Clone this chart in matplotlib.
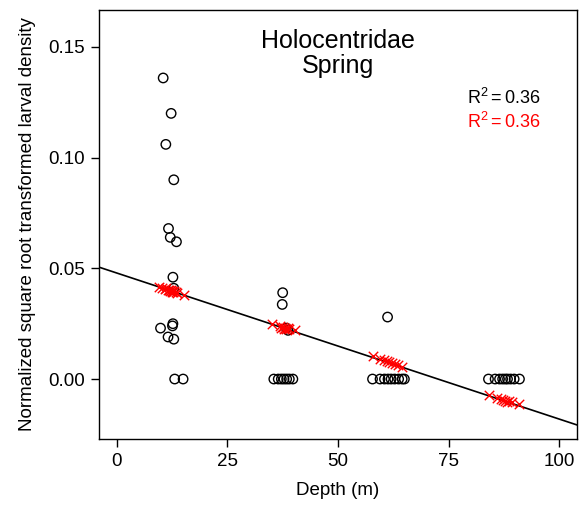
import matplotlib
matplotlib.use("Agg")
import matplotlib.pyplot as plt
import numpy as np

plt.rcParams['font.family'] = ['Liberation Sans', 'DejaVu Sans']
plt.rcParams['mathtext.fontset'] = 'custom'
plt.rcParams['mathtext.rm'] = 'Liberation Sans'
plt.rcParams['mathtext.it'] = 'Liberation Sans'

# Observed data (depth, normalized sqrt density)
obs_depth = [10.5, 12.3, 11.1, 12.9, 11.7, 12.1, 13.5, 12.7, 12.9, 12.7, 12.6, 9.9, 11.6, 12.9, 13.1, 15.0,
             37.5, 37.4, 38.3, 38.7, 35.5, 36.5, 37.2, 37.8, 38.4, 39.0, 39.8,
             61.2, 57.8, 59.5, 60.5, 61.3, 62.0, 62.8, 63.7, 64.5, 65.0,
             84.0, 85.5, 86.5, 87.2, 87.8, 88.3, 89.0, 89.8, 91.0]
obs_value = [0.136, 0.120, 0.106, 0.090, 0.068, 0.064, 0.062, 0.046, 0.041, 0.025, 0.024, 0.023, 0.019, 0.018, 0.0, 0.0,
             0.039, 0.0337, 0.023, 0.022, 0.0, 0.0, 0.0, 0.0, 0.0, 0.0, 0.0,
             0.028, 0.0, 0.0, 0.0, 0.0, 0.0, 0.0, 0.0, 0.0, 0.0,
             0.0, 0.0, 0.0, 0.0, 0.0, 0.0, 0.0, 0.0, 0.0]

# Predicted values (red crosses)
pred_depth = [9.5, 10.2, 10.8, 11.2, 11.5, 11.8, 12.0, 12.2, 12.4, 12.6, 12.8, 13.0, 13.3, 13.6, 15.3,
              35.0, 36.8, 37.2, 37.5, 37.8, 38.0, 38.3, 38.6, 39.0, 40.2,
              58.0, 59.5, 60.3, 61.0, 61.6, 62.2, 62.8, 63.5, 64.5,
              84.2, 86.0, 86.8, 87.3, 87.8, 88.2, 88.7, 89.3, 91.0]
pred_value = [0.0415, 0.0412, 0.0405, 0.0410, 0.0400, 0.0403, 0.0398, 0.0402, 0.0395, 0.0399, 0.0394, 0.0397, 0.0392, 0.0390, 0.0378,
              0.0250, 0.0238, 0.0232, 0.0236, 0.0228, 0.0232, 0.0226, 0.0230, 0.0224, 0.0220,
              0.0105, 0.0092, 0.0088, 0.0082, 0.0078, 0.0074, 0.0070, 0.0064, 0.0055,
              -0.0072, -0.0085, -0.0092, -0.0095, -0.0098, -0.0102, -0.0100, -0.0106, -0.0112]

fit_intercept = 0.0479
fit_slope = -0.00066

xticks = [0, 25, 50, 75, 100]
yticks = [0.00, 0.05, 0.10, 0.15]

fig = plt.figure(figsize=(5.81, 5.13), dpi=100)
ax = fig.add_axes([0.1704, 0.1442, 0.8227, 0.8363])

xlim = (-4.0, 104.0)
ax.set_xlim(*xlim)
ax.set_ylim(-0.0271, 0.1667)

xs = np.array(xlim)
ax.plot(xs, fit_intercept + fit_slope * xs, color='black', lw=1.2, zorder=2)

ax.scatter(obs_depth, obs_value, s=46, facecolors='none', edgecolors='black', linewidths=1.0, zorder=3)
ax.scatter(pred_depth, pred_value, s=46, marker='x', color='red', linewidths=1.0, zorder=4)

ax.set_xticks(xticks)
ax.set_xticklabels([str(t) for t in xticks])
ax.set_yticks(yticks)
ax.set_yticklabels([f"{t:.2f}" for t in yticks])
ax.tick_params(direction='out', length=6, width=1, labelsize=13.5, pad=4)
for sp in ax.spines.values():
    sp.set_linewidth(1.0)

ax.set_xlabel("Depth (m)", fontsize=13.5, labelpad=9)
ax.set_ylabel("Normalized square root transformed larval density", fontsize=13.5, labelpad=9)

ax.text(50, 0.1494, "Holocentridae", ha='center', va='baseline', fontsize=18)
ax.text(50, 0.1382, "Spring", ha='center', va='baseline', fontsize=18)
ax.text(87.5, 0.1242, r"$\mathregular{R^2 = 0.36}$", ha='center', va='baseline', fontsize=13, color='black')
ax.text(87.5, 0.1132, r"$\mathregular{R^2 = 0.36}$", ha='center', va='baseline', fontsize=13, color='red')

fig.savefig("out.png", dpi=100)
